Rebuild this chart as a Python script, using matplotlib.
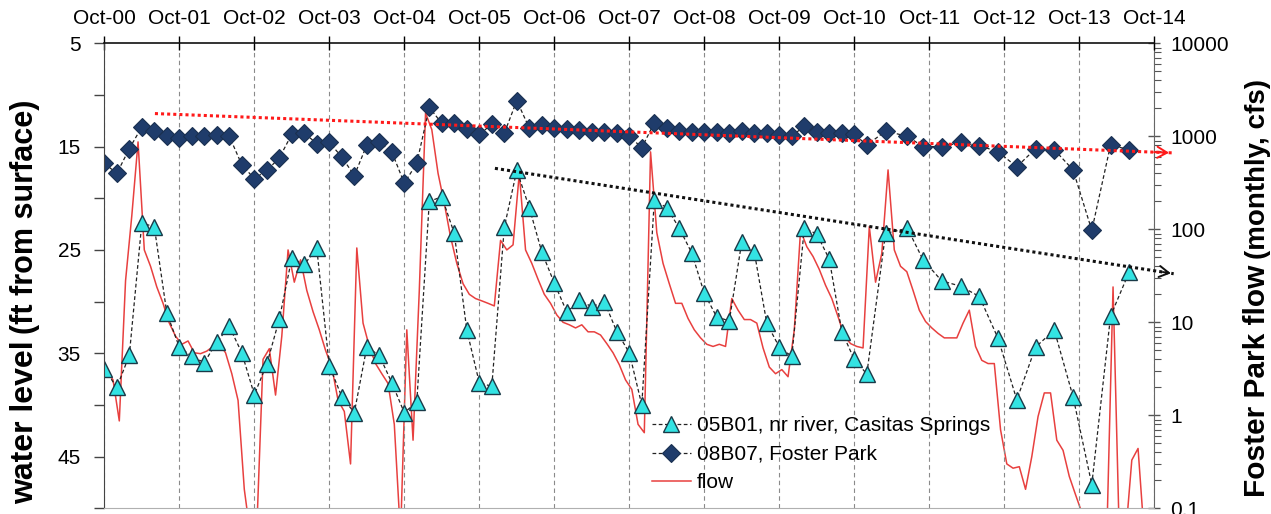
import matplotlib
matplotlib.use('Agg')
import matplotlib.pyplot as plt
import numpy as np
from matplotlib.ticker import FixedLocator, LogLocator, NullFormatter

plt.rcParams['font.family'] = ['Liberation Sans', 'DejaVu Sans']

# x axis: months since Oct 2000
year_labels = ['Oct-00', 'Oct-01', 'Oct-02', 'Oct-03', 'Oct-04', 'Oct-05', 'Oct-06',
               'Oct-07', 'Oct-08', 'Oct-09', 'Oct-10', 'Oct-11', 'Oct-12', 'Oct-13', 'Oct-14']

# sampling dates of the two wells (months since Oct 2000)
obs_month = [0, 2, 4, 6, 8, 10, 12, 14, 16, 18, 20, 22, 24, 26, 28, 30, 32, 34, 36, 38,
             40, 42, 44, 46, 48, 50, 52, 54, 56, 58, 60, 62, 64, 66, 68, 70, 72, 74, 76, 78,
             80, 82, 84, 86, 88, 90, 92, 94, 96, 98, 100, 102, 104, 106, 108, 110, 112, 114,
             116, 118, 120, 122, 125, 128.5, 131, 134, 137, 140, 143, 146, 149, 152, 155,
             158, 161, 164]

# water level, ft below surface
well_05b01 = [36.5, 38.3, 35.2, 22.4, 22.75, 31.1, 34.4, 35.3, 35.9, 33.9, 32.4, 34.95,
              39.0, 36.05, 31.7, 25.8, 26.4, 24.85, 36.2, 39.2, 40.75, 34.4, 35.2, 37.85,
              40.75, 39.7, 20.3, 19.85, 23.4, 32.75, 37.85, 38.2, 22.8, 17.3, 20.9, 25.2,
              28.2, 31.0, 29.85, 30.5, 30.0, 32.9, 34.95, 40.0, 20.2, 20.9, 22.9, 25.3,
              29.2, 31.5, 31.85, 24.2, 25.2, 32.1, 34.4, 35.3, 22.9, 23.45, 25.9, 32.9,
              35.6, 37.0, 23.4, 22.9, 25.95, 28.0, 28.5, 29.5, 33.55, 39.5, 34.4, 32.75,
              39.2, 47.7, 31.4, 27.1]

well_08b07 = [16.6, 17.6, 15.2, 13.1, 13.5, 14.0, 14.2, 14.0, 14.0, 13.9, 14.0, 16.75,
              18.1, 17.3, 16.1, 13.8, 13.7, 14.7, 14.6, 16.0, 17.8, 14.85, 14.6, 15.5,
              18.55, 16.6, 11.2, 12.75, 12.75, 13.3, 13.8, 12.85, 13.7, 10.55, 13.2, 12.9,
              13.2, 13.3, 13.4, 13.55, 13.55, 13.7, 14.0, 15.1, 12.7, 13.2, 13.45, 13.55,
              13.55, 13.55, 13.7, 13.5, 13.65, 13.7, 13.9, 14.0, 13.0, 13.55, 13.65, 13.7,
              13.8, 14.85, 13.5, 14.0, 15.0, 15.0, 14.6, 14.9, 15.5, 16.95, 15.2, 15.3,
              17.25, 23.1, 14.85, 15.3]

# Foster Park monthly flow, cfs, Oct 2000 onward
flow_cfs = [3.0, 2.4, 0.87, 28, 140, 870, 60, 40, 24, 16, 9.8, 7.1,
            5.8, 6.3, 4.7, 4.6, 4.9, 5.5, 5.9, 4.7, 2.8, 1.45, 0.16, 0.05,
            0.06, 4.0, 5.2, 1.65, 7.1, 60, 27, 47, 22, 13, 8.3, 5.0,
            3.3, 1.45, 1.1, 0.30, 63, 9.8, 5.5, 3.6, 2.8, 2.2, 0.8, 0.05,
            8.3, 0.54, 22, 1780, 1180, 400, 190, 83, 43, 26, 20, 18,
            17, 16, 15, 76, 60, 68, 400, 60, 43, 29, 20, 16,
            12, 10, 9.4, 8.7, 9.4, 7.9, 7.9, 7.3, 5.9, 4.7, 3.5, 2.4,
            1.9, 0.8, 0.65, 680, 92, 43, 26, 16, 16, 11, 8.3, 6.8,
            5.8, 5.5, 5.8, 5.5, 18, 13.5, 10.7, 10.7, 9.8, 5.3, 3.3, 2.8,
            3.1, 2.6, 8.3, 97, 65, 51, 37, 25, 18, 11.5, 7.1, 5.9,
            5.5, 5.3, 107, 27, 55, 435, 60, 40, 35, 22, 13.5, 10.2,
            8.7, 7.6, 6.8, 6.8, 6.8, 9.8, 13.5, 5.5, 3.9, 3.6, 3.6, 0.7,
            0.30, 0.27, 0.28, 0.16, 0.36, 0.97, 1.74, 1.74, 0.54, 0.42, 0.22, 0.14,
            0.09, 0.05, 0.05, 0.05, 0.05, 24, 0.05, 0.05, 0.33, 0.44, 0.05]

# hand drawn trend arrows (month, ft)
trend_red_x = [8.1, 170.8]
trend_red_y = [11.8, 15.6]
trend_black_x = [62.5, 171.1]
trend_black_y = [17.1, 27.3]

W, H = 1271, 514
fig = plt.figure(figsize=(W / 100, H / 100), dpi=100)
ax = fig.add_axes([104.3 / W, (H - 508.3) / H, 1050 / W, 465 / H])
ax2 = ax.twinx()

flow_x = np.arange(len(flow_cfs)) + 0.4
ax2.plot(flow_x, flow_cfs, color='#E8403F', lw=1.1, label='flow')
ax2.set_yscale('log')
ax2.set_ylim(0.1, 10000)

ax.set_zorder(ax2.get_zorder() + 1)
ax.patch.set_visible(False)

tri, = ax.plot(obs_month, well_05b01, ls=(0, (3, 2)), color='#222222', lw=0.9,
               marker='^', ms=12, mfc='#33E3E3', mec='#1A3A48', mew=1.0,
               label='05B01, nr river, Casitas Springs')
dia, = ax.plot(obs_month, well_08b07, ls=(0, (3, 2)), color='#222222', lw=0.9,
               marker='D', ms=9, mfc='#1F3C6B', mec='#1A3050', mew=0.8,
               label='08B07, Foster Park')

for tx, ty, col in [(trend_red_x, trend_red_y, '#FF1A1A'), (trend_black_x, trend_black_y, '#111111')]:
    ax.plot(tx, ty, ls=(0, (1, 1)), lw=2.2, color=col, clip_on=False, zorder=5)
    fx = tx[1] - 0.02 * (tx[1] - tx[0])
    fy = ty[1] - 0.02 * (ty[1] - ty[0])
    ax.annotate('', xy=(tx[1], ty[1]), xytext=(fx, fy), annotation_clip=False,
                arrowprops=dict(arrowstyle='->,head_length=0.7,head_width=0.4', color=col, lw=1.4))

ax.set_xlim(0, 168)
ax.set_ylim(50, 5)
ax.xaxis.tick_top()
ax.set_xticks(np.arange(0, 169, 12))
ax.set_xticklabels(year_labels)
ax.tick_params(axis='x', direction='inout', length=10, width=1, pad=6, labelsize=15)
ax.xaxis.grid(True, ls=(0, (4, 3)), color='#8A8A8A', lw=0.8)

ax.set_yticks([5, 15, 25, 35, 45])
ax.yaxis.set_minor_locator(FixedLocator([10, 20, 30, 40, 50]))
ax.tick_params(axis='y', which='both', direction='out', length=7, width=1,
               color='#444444', pad=10, labelsize=15)

ax2.set_yticks([0.1, 1, 10, 100, 1000, 10000])
ax2.set_yticklabels(['0.1', '1', '10', '100', '1000', '10000'])
ax2.yaxis.set_minor_locator(LogLocator(base=10, subs=np.arange(2, 10)))
ax2.yaxis.set_minor_formatter(NullFormatter())
ax2.tick_params(axis='y', which='major', direction='inout', length=9, width=1,
                color='#555555', pad=7, labelsize=15)
ax2.tick_params(axis='y', which='minor', direction='out', length=5, width=0.8,
                color='#555555')

ax.spines['right'].set_visible(False)
ax.spines['top'].set_color('#111111')
ax.spines['top'].set_linewidth(1.2)
ax.spines['left'].set_color('#444444')
ax.spines['bottom'].set_color('#B0B0B0')
for s in ['left', 'top', 'bottom']:
    ax2.spines[s].set_visible(False)
ax2.spines['right'].set_color('#666666')

ax.legend([tri, dia, ax2.lines[0]],
          ['05B01, nr river, Casitas Springs', '08B07, Foster Park', 'flow'],
          loc='upper left', bbox_to_anchor=(0.5216, 0.198), frameon=False,
          fontsize=15, handlelength=1.85, handletextpad=0.3, labelspacing=0.46,
          borderaxespad=0, borderpad=0, numpoints=1)

# axis titles in two sizes
def two_part_label(x, y0, big, small, big_size, small_size):
    t1 = fig.text(x / W, y0 / H, big, rotation=90, rotation_mode='anchor',
                  ha='left', va='baseline', fontsize=big_size, fontweight='bold')
    fig.canvas.draw()
    bb = t1.get_window_extent()
    fig.text(x / W, (bb.y1 + 6) / H, small, rotation=90, rotation_mode='anchor',
             ha='left', va='baseline', fontsize=small_size, fontweight='bold')

two_part_label(33, H - 504, 'water level', '(ft from surface)', 23, 22)
two_part_label(1265, H - 497, 'Foster Park flow', '(monthly, cfs)', 21.5, 20)

fig.savefig('out.png', dpi=100)
